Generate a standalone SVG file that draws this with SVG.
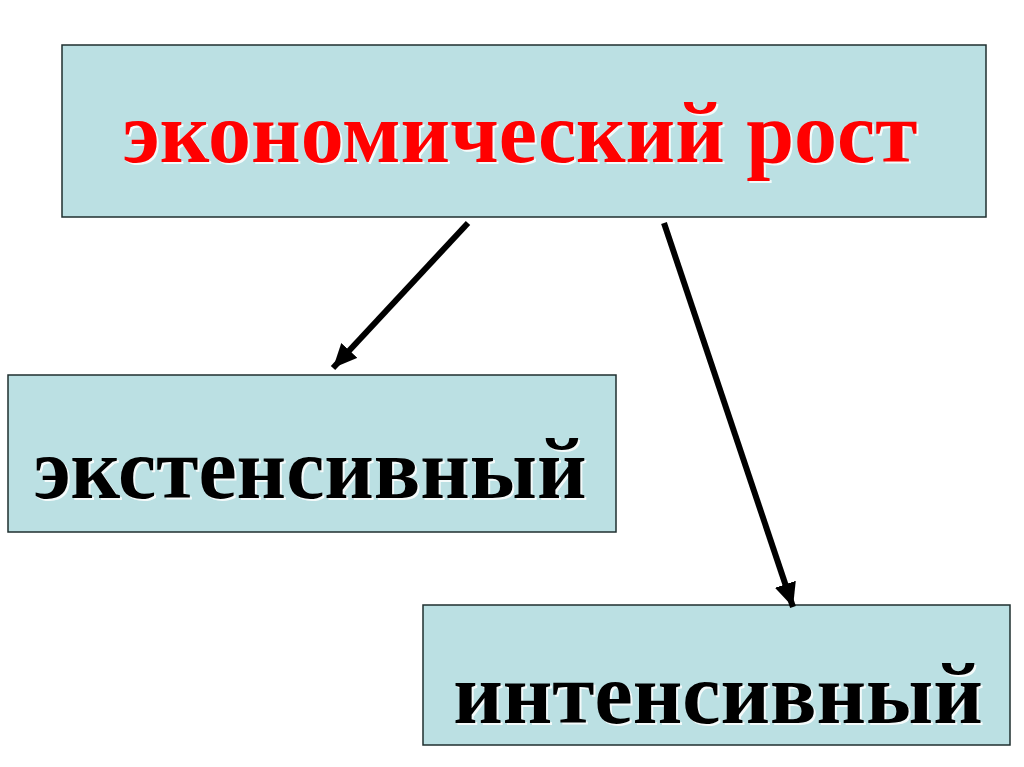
<svg xmlns="http://www.w3.org/2000/svg" width="1024" height="767" viewBox="0 0 1024 767">
<style>
.box{fill:#BBE0E3;stroke:#1f2f2f;stroke-width:1.5}
.t{font-family:"Liberation Serif","Times New Roman",serif;font-weight:bold;text-anchor:middle;font-size:86px}
.sh{fill:#ffffff;opacity:0.85}
.red{fill:#FF0000}
.blk{fill:#000000}
.conn{stroke:#000;stroke-width:6;fill:none;marker-end:url(#ah)}
</style>
<defs>
<marker id="ah" markerUnits="userSpaceOnUse" markerWidth="26" markerHeight="24" refX="24" refY="11" orient="auto">
<path d="M0,0 L24,11 L0,22 Z" fill="#000"/>
</marker>
</defs>
<rect width="1024" height="767" fill="#ffffff"/>
<g id="node-growth">
<rect class="box" x="62" y="45" width="924" height="172"/>
<text class="t sh" x="522" y="164">экономический рост</text>
<text class="t red" x="520" y="162">экономический рост</text>
</g>
<g id="node-extensive">
<rect class="box" x="8" y="375" width="608" height="157"/>
<text class="t sh" x="312" y="500">экстенсивный</text>
<text class="t blk" x="310" y="498">экстенсивный</text>
</g>
<g id="node-intensive">
<rect class="box" x="423" y="605" width="587" height="140"/>
<text class="t sh" x="720" y="725">интенсивный</text>
<text class="t blk" x="718" y="723">интенсивный</text>
</g>
<g id="connectors">
<line class="conn" x1="468" y1="223" x2="333" y2="368"/>
<line class="conn" x1="664" y1="223" x2="793" y2="607"/>
</g>
</svg>
